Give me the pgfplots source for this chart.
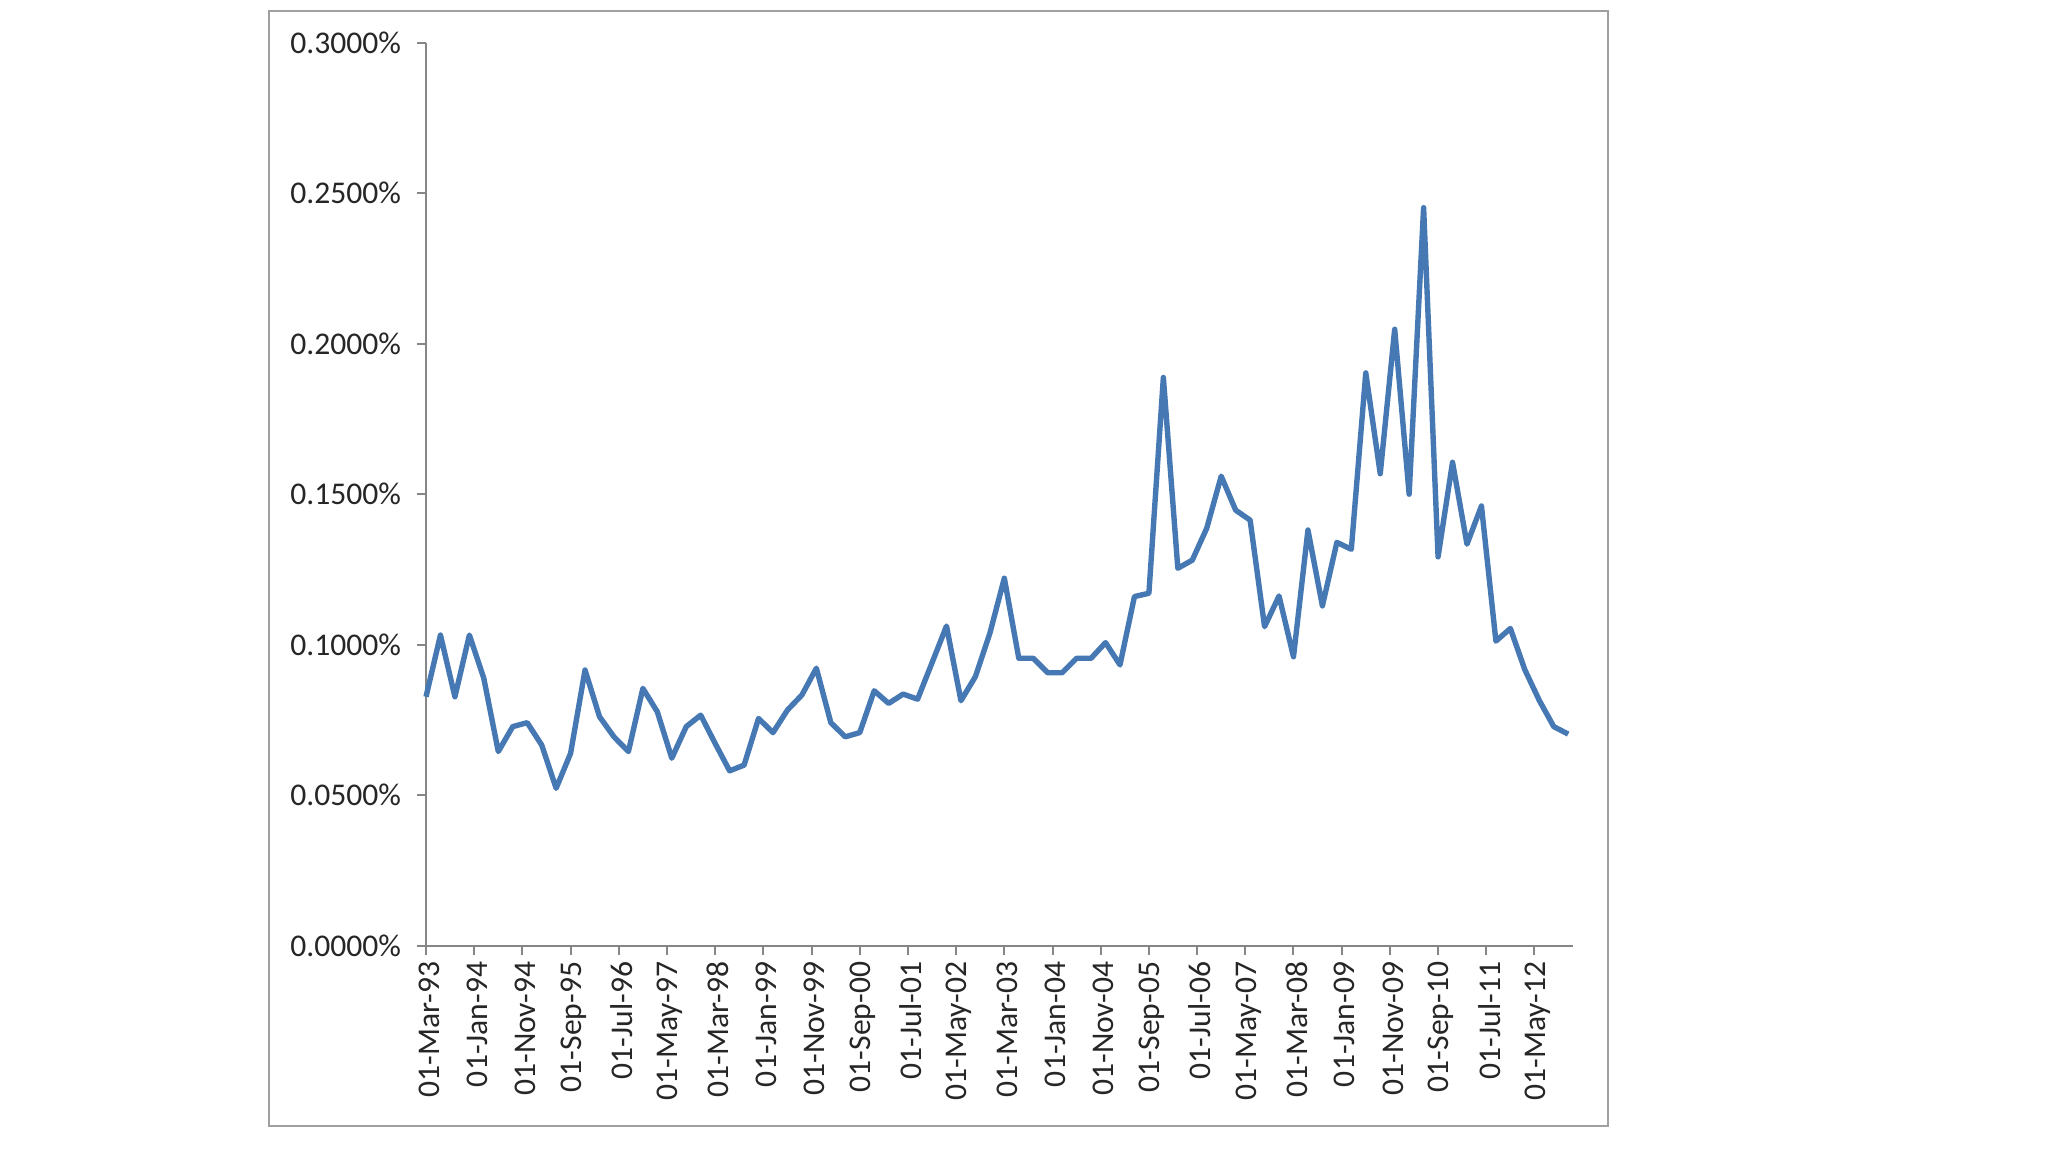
\documentclass[border=0pt]{standalone}
\usepackage{pgfplots}
\pgfplotsset{compat=1.18}
\usepackage{pgfplotstable}
\usepackage{fontspec}
\setmainfont{Carlito}
\definecolor{xlblue}{RGB}{70,120,180}
\definecolor{axgray}{RGB}{134,134,134}
\definecolor{bordergray}{RGB}{160,160,160}

\pgfplotstableread{
m v
0 0.0827
3 0.1032
6 0.0827
9 0.1032
12 0.0888
15 0.0645
18 0.0728
21 0.0741
24 0.0667
27 0.0523
30 0.0639
33 0.0916
36 0.0761
39 0.0694
42 0.0645
45 0.0855
48 0.0777
51 0.0623
54 0.0728
57 0.0766
60 0.0672
63 0.0581
66 0.0600
69 0.0755
72 0.0708
75 0.0783
78 0.0833
81 0.0922
84 0.0741
87 0.0694
90 0.0708
93 0.0847
96 0.0805
99 0.0836
102 0.0819
105 0.0940
108 0.1062
111 0.0814
114 0.0894
117 0.1038
120 0.1221
123 0.0955
126 0.0955
129 0.0907
132 0.0907
135 0.0955
138 0.0955
141 0.1007
144 0.0933
147 0.1160
150 0.1171
153 0.1888
156 0.1254
159 0.1281
162 0.1387
165 0.1560
168 0.1447
171 0.1414
174 0.1060
177 0.1162
180 0.0960
183 0.1381
186 0.1129
189 0.1340
192 0.1317
195 0.1903
198 0.1568
201 0.2048
204 0.1500
207 0.2452
210 0.1292
213 0.1606
216 0.1334
219 0.1461
222 0.1012
225 0.1054
228 0.0917
231 0.0815
234 0.0728
237 0.0703
}\datatable

\begin{document}
\begin{tikzpicture}
\fill[white] (0pt,0pt) rectangle (1024pt,-576pt);
\draw[bordergray, line width=1.3pt] (134.5pt,-5.5pt) rectangle (804pt,-563pt);
\begin{axis}[
  at={(213pt,-472.85pt)}, anchor=south west,
  scale only axis, width=573.5pt, height=451.5pt,
  xmin=0, xmax=238, ymin=0, ymax=0.3,
  axis x line*=bottom, axis y line*=left,
  axis line style={axgray, line width=1pt},
  tick align=outside, major tick length=4.5pt,
  tick style={axgray, line width=1pt},
  xtick={0,10,...,230},
  xticklabels={01-Mar-93,01-Jan-94,01-Nov-94,01-Sep-95,01-Jul-96,01-May-97,01-Mar-98,01-Jan-99,01-Nov-99,01-Sep-00,01-Jul-01,01-May-02,01-Mar-03,01-Jan-04,01-Nov-04,01-Sep-05,01-Jul-06,01-May-07,01-Mar-08,01-Jan-09,01-Nov-09,01-Sep-10,01-Jul-11,01-May-12},
  ytick={0,0.05,0.1,0.15,0.2,0.25,0.3},
  yticklabels={0.0000\%,0.0500\%,0.1000\%,0.1500\%,0.2000\%,0.2500\%,0.3000\%},
  ticklabel style={font=\fontsize{15.8}{18}\selectfont, text=black!85},
  xticklabel style={rotate=90, anchor=east, yshift=-1.5pt},
  yticklabel style={xshift=-4.5pt},
  clip=false,
]
\addplot[xlblue, line width=2.7pt, line join=round, mark=none] table[x=m, y=v] {\datatable};
\end{axis}
\end{tikzpicture}
\end{document}
